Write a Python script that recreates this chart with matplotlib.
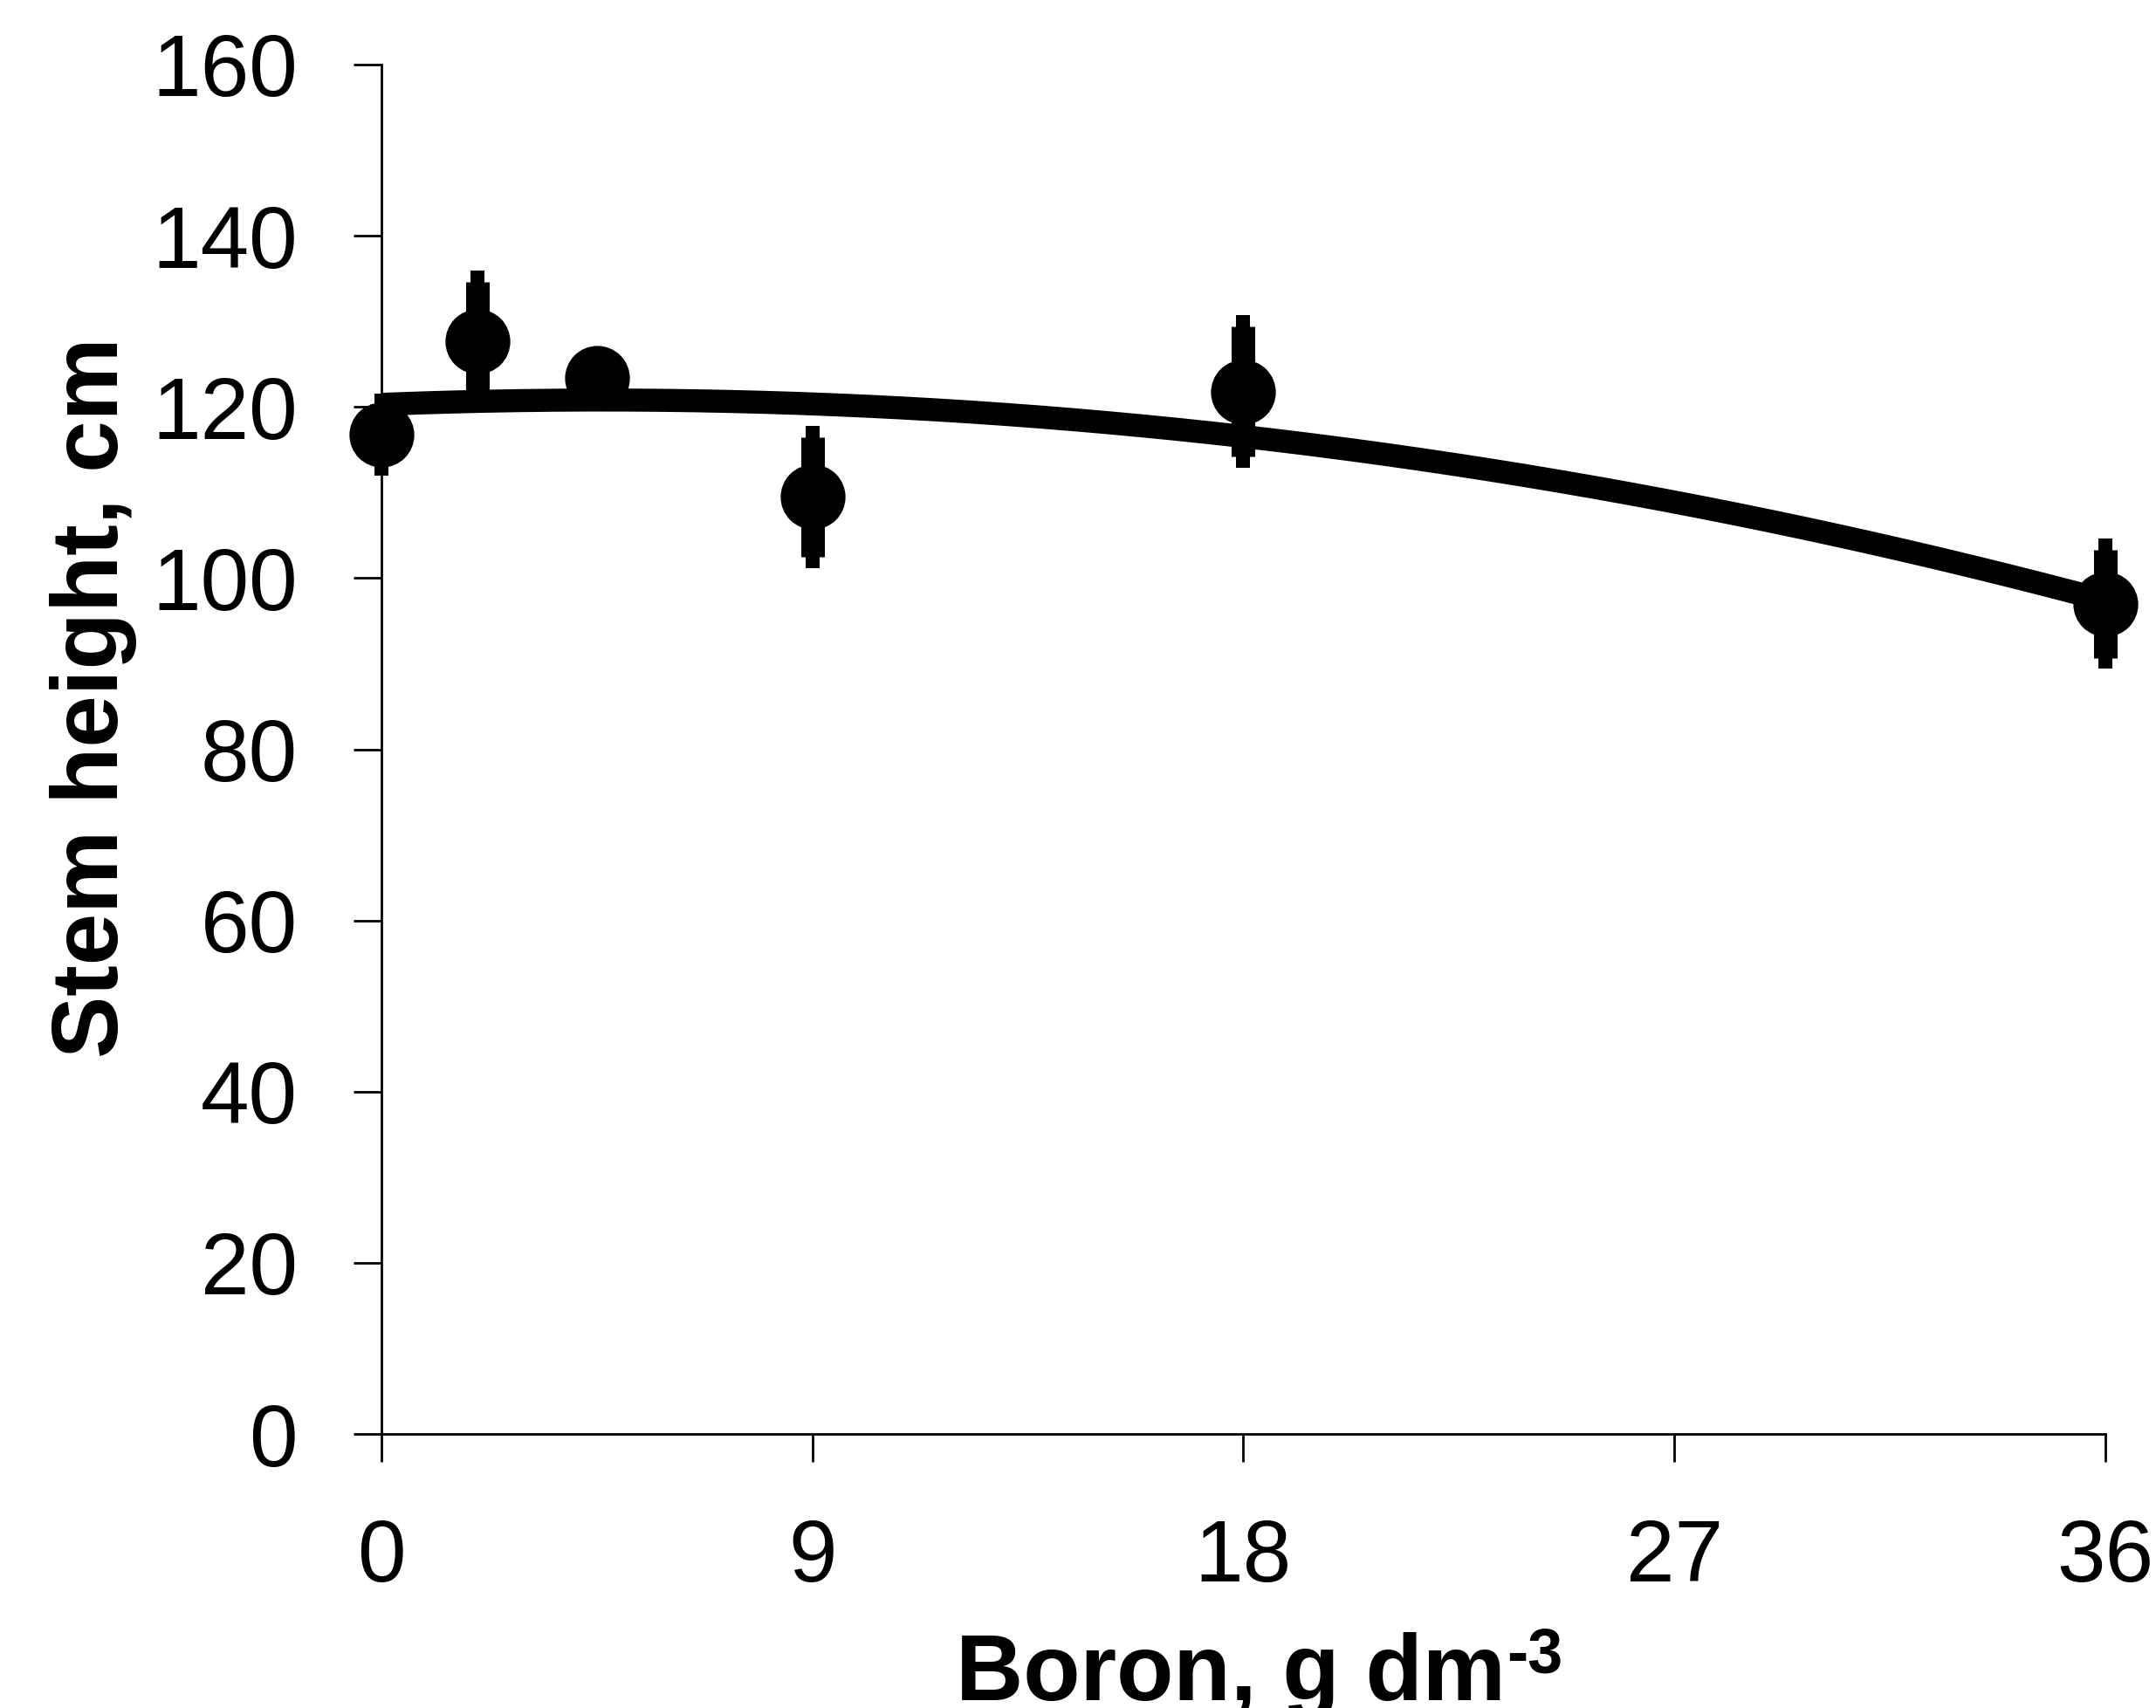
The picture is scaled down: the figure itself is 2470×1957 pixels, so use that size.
import numpy as np
import matplotlib
matplotlib.use("Agg")
import matplotlib.pyplot as plt

plt.rcParams['font.family'] = ['Liberation Sans', 'DejaVu Sans']

# boron dose (g dm-3), stem height means (cm) and error bars
boron = [0, 2, 4.5, 9, 18, 36]
height = [116.8, 127.7, 123.4, 109.5, 121.8, 97.0]
height_err = [4.8, 8.2, 2.0, 8.3, 8.9, 7.6]

# quadratic trend line: c2*x^2 + c1*x + c0
trend_coef = [-0.0238, 0.22, 120.3]

x_ticks = [0, 9, 18, 27, 36]
y_ticks = [0, 20, 40, 60, 80, 100, 120, 140, 160]

fig = plt.figure(figsize=(24.7, 19.57), dpi=100)
ax = fig.add_axes([0.1769, 0.1604, 0.7996, 0.8018])

# trend line
xs = np.linspace(0, 36, 200)
ax.plot(xs, np.polyval(trend_coef, xs), color='black', lw=19,
        solid_capstyle='butt', clip_on=False, zorder=2)

# error bars: thick body and a narrower tip
err = np.array(height_err)
ax.errorbar(boron, height, yerr=err, fmt='none', ecolor='black',
            elinewidth=11.5, capsize=0, clip_on=False, zorder=3)
ax.errorbar(boron, height, yerr=np.clip(err - 1.3, 0, None), fmt='none',
            ecolor='black', elinewidth=19.5, capsize=0, clip_on=False, zorder=3)
ax.plot(boron, height, 'o', color='black', markersize=52.5, clip_on=False, zorder=4)

ax.set_xlim(0, 36)
ax.set_ylim(0, 160)
ax.set_xticks(x_ticks)
ax.set_yticks(y_ticks)

for s in ['top', 'right']:
    ax.spines[s].set_visible(False)
for s in ['left', 'bottom']:
    ax.spines[s].set_linewidth(2)

ax.tick_params(axis='both', direction='out', length=23, width=2,
               labelsize=72, pad=46)

ax.set_ylabel('Stem height, cm', fontsize=77, fontweight='bold')
ax.yaxis.set_label_coords(-0.1418, 0.538)

ax.set_xlabel('Boron, g dm', fontsize=77, fontweight='bold')
ax.xaxis.label.set_ha('left')
ax.xaxis.label.set_va('baseline')
ax.xaxis.set_label_coords(0.3332, -0.1944)

ax.annotate('-3', xy=(1.0, -0.1944), xycoords=(ax.xaxis.label, 'axes fraction'),
            xytext=(1, 23), textcoords='offset points', ha='left', va='baseline',
            fontsize=52, fontweight='bold', annotation_clip=False)

fig.savefig('out.png', dpi=100)
